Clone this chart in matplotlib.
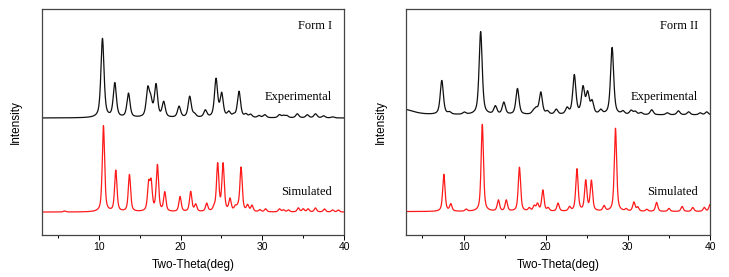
import numpy as np
import matplotlib
matplotlib.use("Agg")
from matplotlib import pyplot as plt
from matplotlib.ticker import MultipleLocator, NullLocator

# Peak lists (2theta in deg, height in px above baseline)
form1_exp_pos = [10.45, 11.96, 13.63, 15.99, 16.35, 17.0, 17.94, 19.82, 21.12, 21.7, 23.03,
                 24.34, 25.03, 25.9, 26.5, 27.15, 28.0, 28.57, 29.6, 30.3, 32.1, 32.6, 33.0,
                 34.28, 35.5, 36.5, 37.5, 38.6]
form1_exp_int = [79, 34, 24, 27, 15, 32, 15, 11, 21, 3, 7,
                 38, 23, 5, 2, 26, 3, 3, 2, 3, 3, 2, 2,
                 4, 3, 4, 2, 1]

form1_sim_pos = [5.8, 10.57, 12.08, 13.75, 16.1, 16.4, 17.17, 18.07, 19.94, 21.24, 21.85,
                 23.2, 24.1, 24.54, 25.2, 26.05, 26.7, 27.0, 27.4, 28.2, 28.74, 29.7, 30.4,
                 32.1, 32.6, 33.2, 34.4, 35.0, 35.6, 36.5, 37.6, 38.6, 39.3]
form1_sim_int = [1, 86, 41, 37, 26, 27, 46, 19, 15, 20, 7,
                 8, 3, 47, 47, 12, 4, 3, 44, 6, 6, 2, 3,
                 3, 2, 2, 4, 3, 3, 4, 3, 2, 2]

form2_exp_pos = [2.5, 7.35, 8.29, 10.1, 12.08, 13.87, 14.9, 16.56, 18.5, 18.84, 19.4, 20.2,
                 21.28, 22.6, 23.48, 24.54, 25.1, 25.64, 26.7, 28.08, 29.4, 30.4, 30.9,
                 31.6, 32.9, 34.8, 36.15, 37.4, 38.8, 39.6]
form2_exp_int = [6, 34, 2, 2, 83, 8, 12, 26, 3, 5, 22, 3,
                 5, 6, 39, 26, 20, 12, 4, 67, 3, 4, 3,
                 2, 5, 2, 4, 3, 2, 3]

form2_sim_pos = [7.6, 8.45, 10.33, 12.28, 14.24, 15.2, 16.8, 18.0, 18.6, 19.0, 19.65, 20.3,
                 21.5, 22.9, 23.8, 24.87, 25.56, 27.1, 28.49, 29.8, 30.73, 31.2, 32.3,
                 33.5, 35.0, 36.6, 37.9, 39.3, 40.0]
form2_sim_int = [37, 7, 2, 87, 11, 11, 44, 3, 5, 7, 21, 3,
                 8, 4, 42, 30, 30, 5, 83, 2, 9, 4, 2,
                 9, 3, 5, 4, 4, 7]

x_ticks = [10, 20, 30, 40]
panels = [
    ("Form I", form1_exp_pos, form1_exp_int, form1_sim_pos, form1_sim_int, 116.5, 22.5),
    ("Form II", form2_exp_pos, form2_exp_int, form2_sim_pos, form2_sim_int, 119.5, 23.0),
]


def pattern(tt, pos, hgt, fwhm):
    y = np.zeros_like(tt)
    for p, h in zip(pos, hgt):
        w = fwhm * 7 if p < 4 else fwhm
        d = (tt - p) / (w / 2)
        y += h * (0.6 / (1 + d ** 2) + 0.4 * np.exp(-np.log(2) * d ** 2))
    return y


tt = np.linspace(3, 40, 3000)
serif = ["Liberation Serif", "DejaVu Serif"]

fig = plt.figure(figsize=(7.29, 2.77), dpi=100)
boxes = [[0.057, 0.153, 0.415, 0.813], [0.557, 0.153, 0.417, 0.813]]

for box, (name, ep, ei, sp, si, eb, sb) in zip(boxes, panels):
    ax = fig.add_axes(box)
    ax.plot(tt, eb + pattern(tt, ep, ei, 0.45), color="#111111", lw=0.9)
    ax.plot(tt, sb + pattern(tt, sp, si, 0.34), color="#ff1a1a", lw=0.9)
    ax.set_xlim(3, 40)
    ax.set_ylim(0, 225)
    ax.set_xticks(x_ticks)
    ax.xaxis.set_minor_locator(MultipleLocator(5))
    ax.yaxis.set_major_locator(NullLocator())
    ax.tick_params(axis="x", which="major", length=3.5, width=0.7, labelsize=7.5, pad=2)
    ax.tick_params(axis="x", which="minor", length=2.5, width=0.7)
    for s in ax.spines.values():
        s.set_linewidth(0.9)
        s.set_color("#444444")
    for lbl in ax.get_xticklabels():
        lbl.set_family("Liberation Sans")
    ax.set_xlabel("Two-Theta(deg)", fontsize=8.5, family="Liberation Sans", labelpad=5)
    ax.set_ylabel("Intensity", fontsize=8.5, family="Liberation Sans", labelpad=14)
    ax.text(0.96, 0.925, name, transform=ax.transAxes, ha="right", va="center",
            fontsize=9, family=serif)
    ax.text(0.96, 0.61, "Experimental", transform=ax.transAxes, ha="right", va="center",
            fontsize=9, family=serif)
    ax.text(0.96, 0.19, "Simulated", transform=ax.transAxes, ha="right", va="center",
            fontsize=9, family=serif)

fig.savefig("out.png", dpi=100)
